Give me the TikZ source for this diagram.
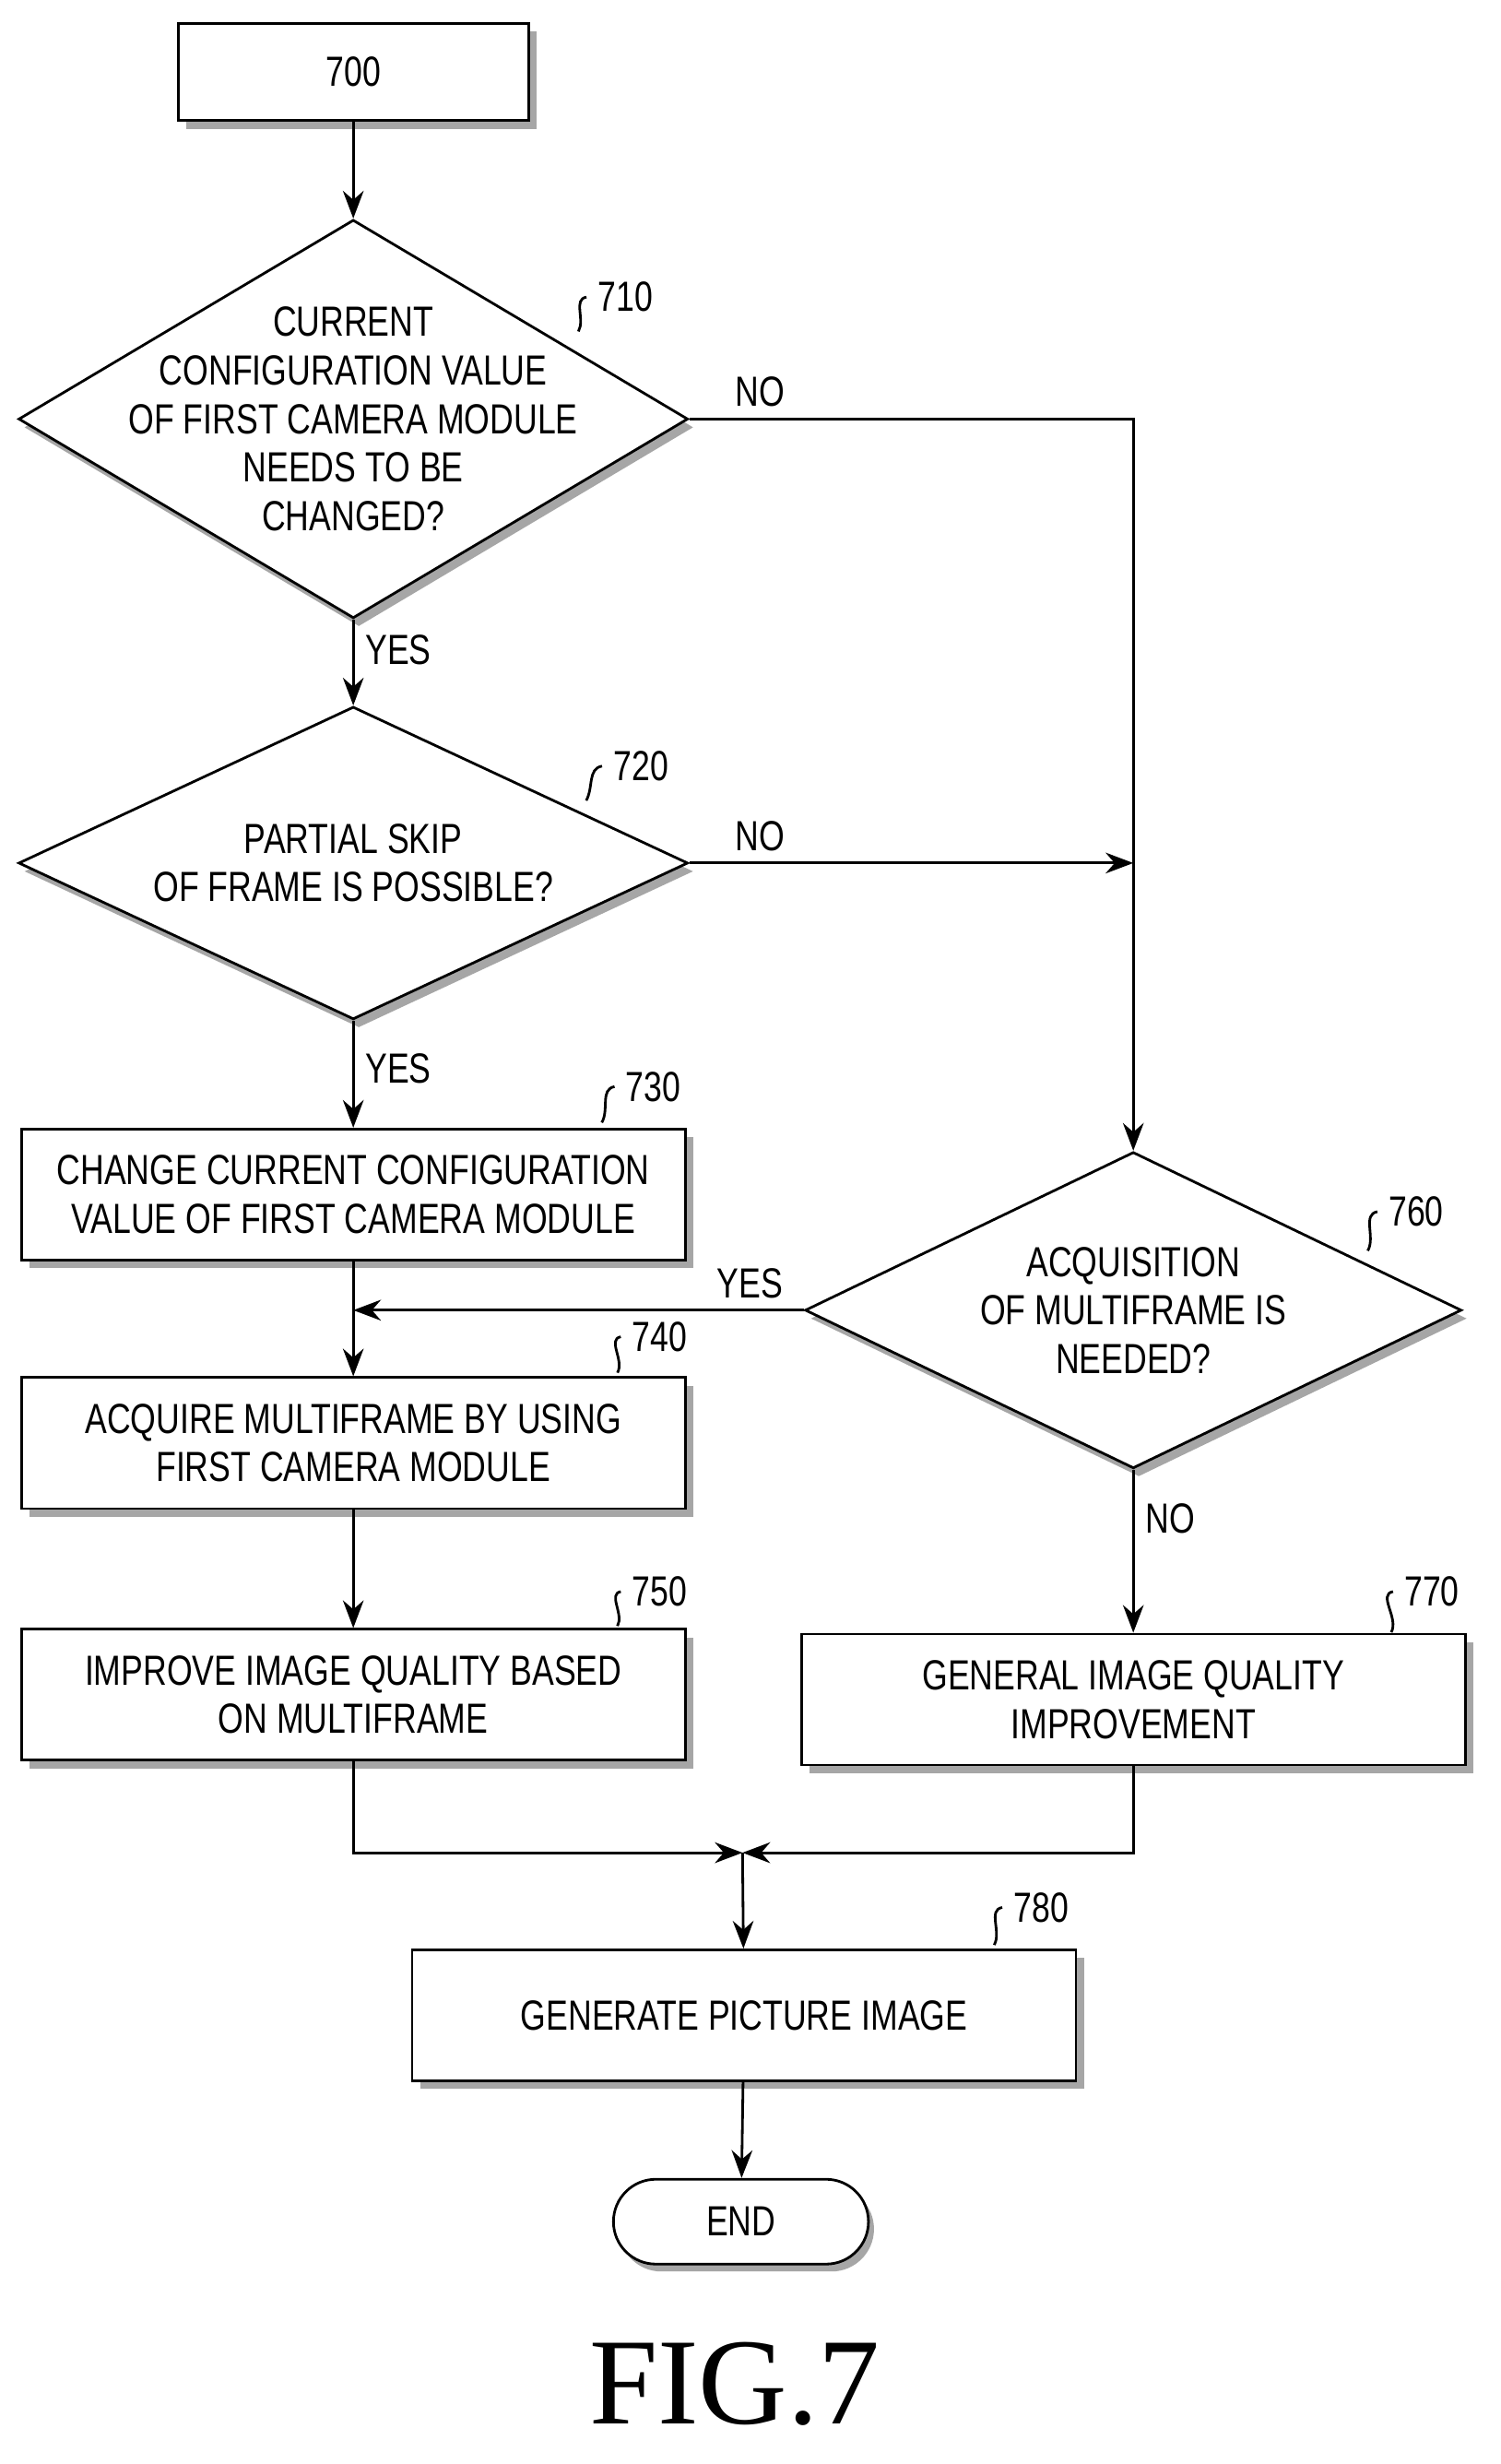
\documentclass[tikz,border=0pt]{standalone}
\usepackage{fontspec}
\setmainfont{Liberation Sans}[FakeStretch=0.78]
\usetikzlibrary{shapes.geometric,shapes.misc,shadows,arrows.meta}

\tikzset{
  block/.style={draw,thick,fill=white,rectangle,minimum width=7.2cm,minimum height=1.42cm,
    align=center,drop shadow={shadow xshift=0.09cm,shadow yshift=-0.09cm,fill=gray!70,opacity=1}},
  test/.style={draw,thick,fill=white,diamond,inner sep=0pt,
    drop shadow={shadow xshift=0.06cm,shadow yshift=-0.09cm,fill=gray!70,opacity=1}},
  tag/.style={font=\fontsize{13}{15}\selectfont},
  flow/.style={thick,-{Stealth[length=3mm]}},
  line/.style={thick}
}

\begin{document}
\begin{tikzpicture}[x=0.01696cm,y=-0.01696cm,font=\fontsize{13}{15}\selectfont]
        \useasboundingbox (0,0) rectangle (960,1576);

        % Start and decisions
        \node[block,minimum width=3.8cm,minimum height=1.05cm] (start) at (226,46) {700};
        \node[test,minimum width=7.26cm,minimum height=4.32cm,
          label={[align=center]center:CURRENT\\CONFIGURATION VALUE\\OF FIRST CAMERA MODULE\\NEEDS TO BE\\CHANGED?}] (q1) at (226,268) {};
        \node[test,minimum width=7.26cm,minimum height=3.39cm,
          label={[align=center]center:PARTIAL SKIP\\OF FRAME IS POSSIBLE?}] (q2) at (226,552) {};
        \node[test,minimum width=7.12cm,minimum height=3.43cm,
          label={[align=center]center:ACQUISITION\\OF MULTIFRAME IS\\NEEDED?}] (q3) at (725,838) {};

        % Process boxes
        \node[block] (change) at (226,764) {CHANGE CURRENT CONFIGURATION\\VALUE OF FIRST CAMERA MODULE};
        \node[block] (acquire) at (226,923) {ACQUIRE MULTIFRAME BY USING\\FIRST CAMERA MODULE};
        \node[block] (improve) at (226,1084) {IMPROVE IMAGE QUALITY BASED\\ON MULTIFRAME};
        \node[block] (general) at (725,1087) {GENERAL IMAGE QUALITY\\IMPROVEMENT};
        \node[block] (picture) at (476,1289) {GENERATE PICTURE IMAGE};
        \node[draw,thick,fill=white,rounded rectangle,minimum width=3.0cm,minimum height=0.92cm,
          drop shadow={shadow xshift=0.06cm,shadow yshift=-0.08cm,fill=gray!70,opacity=1}] (end) at (474,1421) {END};

        % Reference numerals
        \node[tag] (n710) at (400,190) {710};
        \node[tag] (n720) at (410,490) {720};
        \node[tag] (n730) at (418,695) {730};
        \node[tag] (n740) at (422,855) {740};
        \node[tag] (n750) at (422,1018) {750};
        \node[tag] (n760) at (906,775) {760};
        \node[tag] (n770) at (916,1018) {770};
        \node[tag] (n780) at (666,1220) {780};
        \draw[line] (n710.west) to[out=190,in=60] (370,212);
        \draw[line] (n720.west) to[out=190,in=60] (375,512);
        \draw[line] (n730.west) to[out=190,in=60] (385,718);
        \draw[line] (n740.west) to[out=190,in=60] (395,878);
        \draw[line] (n750.west) to[out=190,in=60] (395,1040);
        \draw[line] (n760.west) to[out=190,in=60] (875,800);
        \draw[line] (n770.west) to[out=190,in=60] (890,1044);
        \draw[line] (n780.west) to[out=190,in=60] (636,1244);

        % Connectors
        \coordinate (join) at (475,1185);
        \coordinate (mid) at (226,838);
        \draw[flow] (start) -- (q1);
        \draw[flow] (q1) -- node[right,pos=0.35] {YES} (q2);
        \draw[flow] (q2) -- node[right,pos=0.45] {YES} (change);
        \draw[flow] (change) -- (acquire);
        \draw[flow] (acquire) -- (improve);
        \draw[flow] (q1.east) -- node[above,pos=0.16] {NO} (q1.east -| q3.north) -- (q3.north);
        \draw[flow] (q2.east) -- node[above,pos=0.16] {NO} (q2.east -| q3.north);
        \draw[flow] (q3.west) -- node[above,pos=0.12] {YES} (mid);
        \draw[flow] (q3) -- node[right,pos=0.3] {NO} (general);
        \draw[flow] (improve.south) |- (join);
        \draw[flow] (general.south) |- (join);
        \draw[flow] (join) -- (picture);
        \draw[flow] (picture) -- (end);

        % Caption
        \node[font=\fontspec{Liberation Serif}\fontsize{38}{42}\selectfont] (fig) at (470,1525) {FIG.7};
\end{tikzpicture}
\end{document}
